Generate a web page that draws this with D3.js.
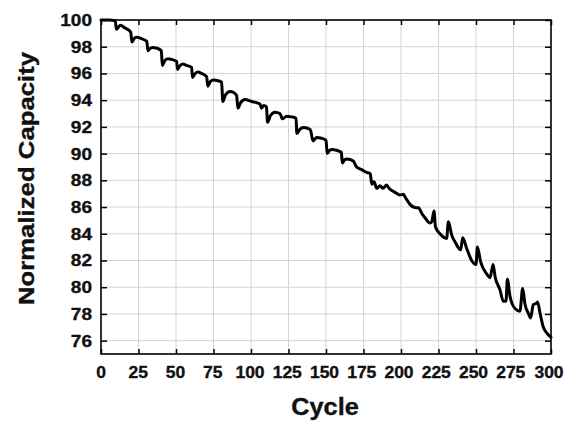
<!DOCTYPE html>
<html>
<head>
<meta charset="utf-8">
<script src="https://cdn.jsdelivr.net/npm/d3@7"></script>
<style>
    body { margin: 0; background: #fff; }
    svg { display: block; font-family: "Liberation Sans", Arial, sans-serif; font-weight: bold; }
    svg text { stroke: #111; stroke-width: 0.35px; fill: #111; }
</style>
</head>
<body>
<div id="chart"></div>
<script>
const width = 576;
const height = 424;

// ──── Data ────
const cycles = [
    0, 5, 9.5, 10.3, 11.5, 13, 16, 19.8, 20.6, 22, 23.5, 27, 30.5, 31.3, 32.5, 34.5, 37, 40.2,
    40.9, 42.5, 44.6, 47, 50.4, 51, 52.5, 54.5, 57, 60.4, 61, 62.5, 64.5, 67, 70.4, 71.2, 73, 75,
    78, 80.4, 81.2, 83, 86, 88, 90.4, 91.3, 93, 96, 100.4, 104, 106, 107, 108.5, 110.3, 111, 113,
    116, 119.3, 121, 123.8, 127, 130, 130.6, 132.5, 135, 139.5, 141.4, 143.8, 147, 150, 150.8,
    152.5, 154, 157, 160.2, 160.9, 162.5, 164, 168.2, 170.4, 173.8, 177, 179.5, 180.5, 182, 183.8,
    186, 188, 190.4, 192, 196, 199.3, 201.6, 203, 206, 210, 211.6, 214, 216, 219.3, 220.5, 222,
    223, 226, 230.4, 231.6, 233.8, 236, 239.8, 241.1, 243.8, 247.1, 250, 250.9, 253.1, 257.1,
    259.3, 261.4, 262.7, 266, 268.2, 270, 270.9, 272.7, 276, 279.3, 281.1, 282.7, 284.9, 286.4,
    288.2, 290.4, 291, 292.7, 294.9, 297, 300
];
const capacity = [
    100.0, 100.0, 99.95, 99.3, 99.45, 99.6, 99.4, 99.1, 98.35, 98.6, 98.7, 98.6, 98.4, 97.7, 97.85, 97.95, 97.9, 97.7,
    96.6, 96.95, 97.1, 97.05, 96.9, 96.3, 96.55, 96.7, 96.6, 96.45, 95.7, 95.95, 96.1, 96.0, 95.75, 95.05, 95.4, 95.5,
    95.45, 95.35, 93.9, 94.4, 94.65, 94.6, 94.35, 93.4, 93.8, 94.05, 93.9, 93.8, 93.7, 93.4, 93.6, 93.5, 92.35, 92.85,
    93.1, 93.0, 92.6, 92.8, 92.75, 92.65, 91.5, 91.8, 91.95, 91.8, 90.95, 91.2, 91.15, 91.0, 90.0,
    90.25, 90.3, 90.25, 90.1, 89.3, 89.55, 89.6, 89.45, 89.0, 88.8, 88.6, 88.5, 87.7, 87.9, 87.4,
    87.6, 87.4, 87.65, 87.4, 87.1, 86.9, 86.95, 86.7, 86.2, 85.95, 85.95, 85.5, 85.2, 84.8, 84.9, 85.7,
    84.5, 84.0, 83.65, 84.9, 83.9, 83.4, 82.8, 83.7, 82.9, 82.0, 81.7, 83.0, 81.9, 81.0,
    80.7, 81.7, 80.8, 79.8, 78.95, 78.95, 80.6, 79.3, 78.4, 78.2, 79.9, 78.7, 78.05, 77.7,
    78.7, 78.8, 78.9, 78.05, 77.0, 76.6, 76.25
];
const xTicks = [0, 25, 50, 75, 100, 125, 150, 175, 200, 225, 250, 275, 300];
const yTicks = [76, 78, 80, 82, 84, 86, 88, 90, 92, 94, 96, 98, 100];

const points = cycles.map((c, i) => ({ cycle: c, value: capacity[i] }));

// ──── Scales ────
const margin = { top: 20, right: 25, bottom: 70, left: 101 };
const x = d3.scaleLinear().domain([0, 300]).range([margin.left, width - margin.right]);
const y = d3.scaleLinear().domain([75, 100]).range([height - margin.bottom, margin.top]);

const svg = d3.select("#chart")
    .append("svg")
    .attr("width", width)
    .attr("height", height);

// ──── Grid ────
svg.append("g")
    .attr("stroke", "#d4d4d4")
    .attr("stroke-width", 1)
    .selectAll("line.v")
    .data(xTicks.slice(1, -1))
    .join("line")
    .attr("x1", d => x(d)).attr("x2", d => x(d))
    .attr("y1", y(75)).attr("y2", y(100));

svg.append("g")
    .attr("stroke", "#d4d4d4")
    .attr("stroke-width", 1)
    .selectAll("line.h")
    .data(yTicks.slice(0, -1))
    .join("line")
    .attr("y1", d => y(d)).attr("y2", d => y(d))
    .attr("x1", x(0)).attr("x2", x(300));

// ──── Axes (inner ticks on all four sides) ────
const axisStyle = g => {
    g.select(".domain").remove();
    g.selectAll(".tick line").attr("stroke", "#000").attr("stroke-width", 1.5);
    g.selectAll(".tick text").remove();
};

svg.append("g")
    .attr("transform", `translate(0,${y(75)})`)
    .call(d3.axisBottom(x).tickValues(xTicks).tickSizeInner(-5).tickSizeOuter(0))
    .call(axisStyle);
svg.append("g")
    .attr("transform", `translate(0,${y(100)})`)
    .call(d3.axisTop(x).tickValues(xTicks).tickSizeInner(-5).tickSizeOuter(0))
    .call(axisStyle);
svg.append("g")
    .attr("transform", `translate(${x(0)},0)`)
    .call(d3.axisLeft(y).tickValues(yTicks).tickSizeInner(-6).tickSizeOuter(0))
    .call(axisStyle);
svg.append("g")
    .attr("transform", `translate(${x(300)},0)`)
    .call(d3.axisRight(y).tickValues(yTicks).tickSizeInner(-6).tickSizeOuter(0))
    .call(axisStyle);

// frame
svg.append("rect")
    .attr("x", x(0)).attr("y", y(100))
    .attr("width", x(300) - x(0)).attr("height", y(75) - y(100))
    .attr("fill", "none")
    .attr("stroke", "#000")
    .attr("stroke-width", 1.6);

// ──── Tick labels (slightly wide bold face) ────
svg.append("g")
    .attr("font-size", 17)
    .attr("text-anchor", "middle")
    .selectAll("text")
    .data(xTicks)
    .join("text")
    .attr("transform", d => `translate(${d === 300 ? 549 : x(d) - d / 100},378) scale(1.03,1)`)
    .text(d => d);

svg.append("g")
    .attr("font-size", 17)
    .attr("text-anchor", "end")
    .selectAll("text")
    .data(yTicks)
    .join("text")
    .attr("transform", d => `translate(92,${y(d) + 6}) scale(1.12,1)`)
    .text(d => d);

// ──── Line ────
const line = d3.line()
    .x(d => x(d.cycle))
    .y(d => y(d.value))
    .curve(d3.curveMonotoneX);

svg.append("path")
    .datum(points)
    .attr("fill", "none")
    .attr("stroke", "#000")
    .attr("stroke-width", 3)
    .attr("stroke-linejoin", "round")
    .attr("stroke-linecap", "round")
    .attr("d", line);

// ──── Titles ────
svg.append("text")
    .attr("font-size", 23)
    .attr("text-anchor", "middle")
    .attr("transform", `translate(325,415) scale(1.1,1)`)
    .text("Cycle");

svg.append("text")
    .attr("font-size", 23)
    .attr("text-anchor", "middle")
    .attr("transform", `translate(34,178.5) rotate(-90) scale(1.12,1)`)
    .text("Normalized Capacity");
</script>
</body>
</html>
